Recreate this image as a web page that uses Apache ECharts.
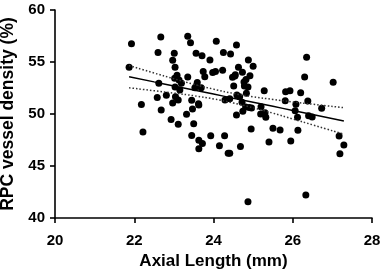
<!DOCTYPE html>
<html>
<head>
<meta charset="utf-8">
<script src="https://cdn.jsdelivr.net/npm/echarts@6/dist/echarts.min.js"></script>
<style>
  html, body { margin: 0; padding: 0; background: #ffffff; }
  #chart { width: 383px; height: 279px; }
</style>
</head>
<body>
<div id="chart"></div>
<script>
// axial length (mm) of each eye
var axialLength = [
  21.93, 22.67, 23.35, 23.42, 22.60, 23.01, 22.97, 23.56, 23.71, 23.91,
  24.07, 24.25, 24.43, 24.58, 21.87, 23.03, 23.08, 23.02, 23.35, 23.74,
  23.78, 23.98, 24.05, 24.23, 24.48, 24.55, 22.62, 23.03, 23.15, 23.04,
  23.59, 23.53, 23.69, 22.81, 22.58, 22.97, 23.45, 23.62, 22.18, 22.68,
  23.47, 23.32, 22.93, 24.29, 24.59, 24.58, 23.11, 23.50, 22.22, 23.45,
  23.63, 23.72, 23.63, 23.93, 24.28, 24.15, 24.37, 24.68, 24.88, 25.00,
  24.63, 24.73, 24.54, 24.82, 24.77, 24.92, 24.51, 24.78, 24.87, 24.83,
  24.66, 24.41, 24.72, 24.81, 24.90, 24.96, 24.74, 25.28, 25.20, 25.19,
  25.32, 26.35, 26.30, 27.02, 25.82, 25.93, 26.20, 25.81, 26.08, 26.38,
  26.73, 26.06, 26.12, 26.40, 26.49, 24.95, 25.50, 25.68, 26.13, 25.40,
  25.95, 24.41, 27.17, 27.29, 27.19, 24.87, 26.33, 25.30, 23.13, 23.19,
  23.11, 23.63
];
// RPC vessel density (%) of each eye
var vesselDensity = [
  56.76, 57.40, 57.47, 56.86, 55.91, 55.84, 55.16, 55.85, 55.61, 55.19,
  57.00, 55.91, 55.77, 56.63, 54.50, 54.50, 53.73, 53.43, 53.56, 54.09,
  53.59, 53.99, 54.09, 54.20, 53.53, 53.78, 52.95, 52.60, 52.31, 51.66,
  53.03, 52.53, 52.53, 51.81, 51.59, 51.06, 51.32, 50.99, 50.91, 50.38,
  50.48, 49.97, 49.47, 51.35, 51.83, 49.90, 49.01, 49.07, 48.27, 47.93,
  47.48, 47.16, 46.66, 47.91, 47.91, 46.95, 46.22, 46.87, 55.19, 54.60,
  54.49, 54.01, 53.65, 53.32, 53.08, 53.68, 52.69, 52.69, 52.60, 51.99,
  51.66, 51.47, 51.12, 50.67, 50.62, 50.58, 50.26, 52.24, 50.70, 50.00,
  49.68, 55.45, 53.56, 53.05, 52.14, 52.24, 52.05, 51.28, 50.93, 51.25,
  50.55, 50.32, 49.68, 49.84, 49.71, 48.56, 48.62, 48.46, 48.43, 47.31,
  47.40, 46.22, 47.88, 47.02, 46.18, 41.57, 42.21, 50.12, 53.27, 52.95,
  51.35, 50.87
];

// fitted line and 95% band
var fitX = [21.87, 22.5, 23, 23.5, 24, 24.5, 25, 25.5, 26, 26.5, 27.29];
var fitY = [53.59, 53.09, 52.70, 52.31, 51.92, 51.52, 51.13, 50.74, 50.34, 49.95, 49.33];
var bandUpper = [54.66, 53.94, 53.39, 52.86, 52.39, 51.98, 51.66, 51.40, 51.16, 50.94, 50.61];
var bandLower = [52.52, 52.24, 52.01, 51.76, 51.45, 51.06, 50.60, 50.08, 49.52, 48.96, 48.05];

var xTicks = [20, 22, 24, 26, 28];
var yTicks = [40, 45, 50, 55, 60];

function pairs(xs, ys) {
  var out = [];
  for (var i = 0; i < xs.length; i++) out.push([xs[i], ys[i]]);
  return out;
}

var chart = echarts.init(document.getElementById('chart'), null, { renderer: 'canvas' });

var font = 'Liberation Sans, Arial, sans-serif';
var axisCommon = {
  axisLine: { show: true, onZero: false, lineStyle: { color: '#000', width: 1.6 } },
  axisTick: { show: true, inside: false, length: 5, lineStyle: { color: '#000', width: 1.6 } },
  splitLine: { show: false },
  nameLocation: 'middle',
  nameTextStyle: { color: '#000', fontFamily: font, fontWeight: 'bold', fontSize: 17 }
};

var option = {
  backgroundColor: '#ffffff',
  animation: false,
  grid: { left: 55, right: 11, top: 10, bottom: 61, containLabel: false, outerBoundsMode: 'none' },
  xAxis: Object.assign({}, axisCommon, {
    type: 'value',
    min: xTicks[0],
    max: xTicks[xTicks.length - 1],
    interval: 2,
    name: 'Axial Length (mm)',
    nameGap: 30,
    axisLabel: { color: '#000', fontFamily: font, fontWeight: 'bold', fontSize: 15, margin: 15 }
  }),
  yAxis: Object.assign({}, axisCommon, {
    type: 'value',
    min: yTicks[0],
    max: yTicks[yTicks.length - 1],
    interval: 5,
    name: 'RPC vessel density (%)',
    nameGap: 25,
    nameTextStyle: { color: '#000', fontFamily: font, fontWeight: 'bold', fontSize: 17.5 },
    axisLabel: { color: '#000', fontFamily: font, fontWeight: 'bold', fontSize: 15, margin: 10 }
  }),
  series: [
    {
      type: 'scatter',
      data: pairs(axialLength, vesselDensity),
      symbolSize: 7,
      itemStyle: { color: '#000', opacity: 1 },
      z: 3
    },
    {
      type: 'line',
      data: pairs(fitX, fitY),
      showSymbol: false,
      smooth: true,
      lineStyle: { color: '#000', width: 1.5 },
      z: 4
    },
    {
      type: 'line',
      data: pairs(fitX, bandUpper),
      showSymbol: false,
      smooth: true,
      lineStyle: { color: '#333', width: 1.5, type: [1.5, 2] },
      z: 4
    },
    {
      type: 'line',
      data: pairs(fitX, bandLower),
      showSymbol: false,
      smooth: true,
      lineStyle: { color: '#333', width: 1.5, type: [1.5, 2] },
      z: 4
    }
  ]
};

chart.setOption(option);
</script>
</body>
</html>
